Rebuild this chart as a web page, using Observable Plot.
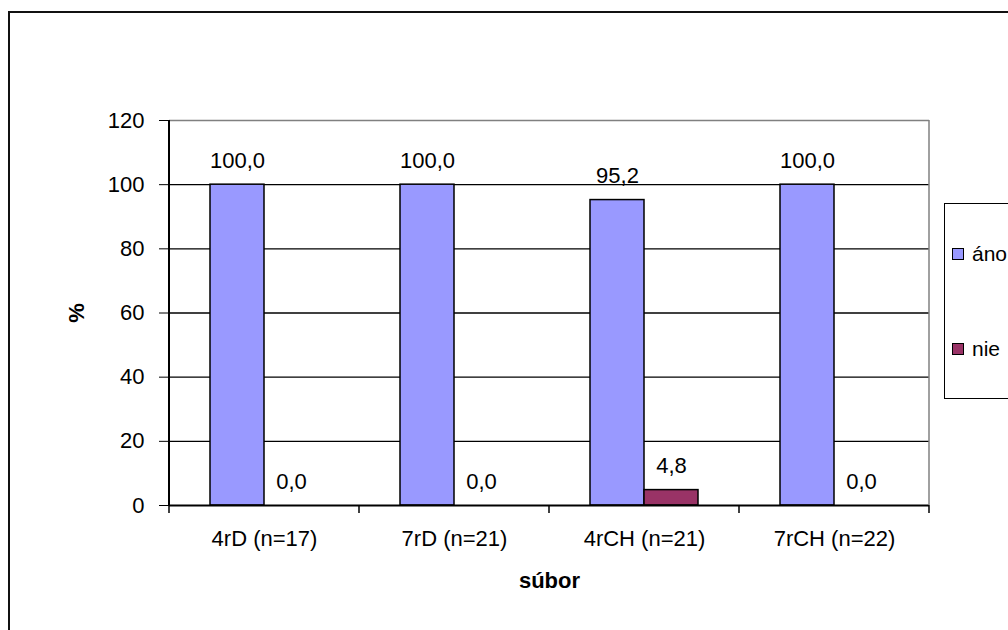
<!DOCTYPE html>
<html>
<head>
<meta charset="utf-8">
<script src="https://cdn.jsdelivr.net/npm/d3@7"></script>
<script src="https://cdn.jsdelivr.net/npm/@observablehq/plot@0.6"></script>
<style>
  html, body { margin: 0; padding: 0; background: #fff; }
  #wrap { position: relative; width: 1008px; height: 630px; overflow: hidden; font-family: "Liberation Sans", Arial, sans-serif; }
  #outer { position: absolute; left: 8px; top: 11px; width: 1100px; height: 700px; border: 2px solid #111; }
  #chart { position: absolute; left: 0; top: 0; }
  #legend { position: absolute; left: 944px; top: 203px; width: 100px; height: 194px; border: 1.5px solid #000; background: #fff; }
  .item { position: absolute; left: 7px; display: flex; align-items: center; font-size: 21px; line-height: 1; }
  .sw { width: 10px; height: 10px; border: 1.5px solid #000; margin-right: 8px; }
</style>
</head>
<body>
<div id="wrap">
  <div id="outer"></div>
  <div id="chart"></div>
  <div id="legend"></div>
</div>
<script>
// Groups (respondent sets) and answer shares in %
const categories = ["4rD (n=17)", "7rD (n=21)", "4rCH (n=21)", "7rCH (n=22)"];
const series = ["áno", "nie"];
const anoValues = [100.0, 100.0, 95.2, 100.0];
const nieValues = [0.0, 0.0, 4.8, 0.0];
const yTicks = [0, 20, 40, 60, 80, 100, 120];
const colors = ["#9999ff", "#993366"];

const data = categories.flatMap((c, i) => [
  {group: c, answer: series[0], value: anoValues[i]},
  {group: c, answer: series[1], value: nieValues[i]}
]);

const fmt = v => v.toFixed(1).replace(".", ",");

const chart = Plot.plot({
  width: 1008,
  height: 630,
  marginLeft: 168,
  marginRight: 79,
  marginTop: 120,
  marginBottom: 125,
  style: {fontFamily: "'Liberation Sans', Arial, sans-serif", fontSize: "22px", background: "transparent", color: "#000", overflow: "visible"},
  fx: {domain: categories, padding: 0, label: null},
  x: {domain: series, paddingInner: 0, paddingOuter: 0.73, axis: null},
  y: {domain: [0, 120], label: null},
  color: {domain: series, range: colors},
  marks: [
    Plot.ruleY(yTicks.filter(t => t > 0 && t < 120), {stroke: "#000", strokeWidth: 1.3}),
    Plot.ruleY([120], {stroke: "#808080", strokeWidth: 1.5}),
    Plot.barY(data, {fx: "group", x: "answer", y: "value", fill: "answer", stroke: "#000", strokeWidth: 1.5}),
    Plot.text(data, {fx: "group", x: "answer", y: "value", text: d => fmt(d.value), dy: -24, lineAnchor: "middle", fontSize: 22}),
    Plot.ruleY([0], {stroke: "#000", strokeWidth: 2}),
    Plot.axisY({ticks: yTicks, tickSize: 10, tickPadding: 15, fontSize: 22, label: "%", labelAnchor: "center", labelOffset: 101, labelArrow: "none"}),
    Plot.axisFx({anchor: "bottom", tickSize: 0, tickPadding: 25, fontSize: 22, label: "súbor", labelAnchor: "center", labelOffset: 82, labelArrow: "none"})
  ]
});

document.getElementById("chart").appendChild(chart);

// Plot-area outline, y axis line and group boundary ticks from the chart's own scales
const fx = chart.scale("fx");
const y = chart.scale("y");
const svg = d3.select(chart);
const x0 = fx.apply(categories[0]);
const x1 = fx.apply(categories[categories.length - 1]) + fx.bandwidth;
const yBase = y.apply(0);
const yTop = y.apply(120);
const extra = svg.append("g");
extra.append("line").attr("x1", x1).attr("x2", x1).attr("y1", yTop).attr("y2", yBase)
  .attr("stroke", "#808080").attr("stroke-width", 1.5);
extra.append("line").attr("x1", x0).attr("x2", x0).attr("y1", yTop).attr("y2", yBase)
  .attr("stroke", "#000").attr("stroke-width", 2);
const bounds = categories.map(c => fx.apply(c)).concat([x1]);
extra.selectAll(".bt").data(bounds).join("line")
  .attr("x1", d => d).attr("x2", d => d).attr("y1", yBase).attr("y2", yBase + 8)
  .attr("stroke", "#000").attr("stroke-width", 1.5);

// Axis titles in bold
svg.selectAll("[aria-label='y-axis label'] text, [aria-label='fx-axis label'] text").attr("font-weight", "bold");

// Legend box
const legend = d3.select("#legend");
const itemTops = [50, 145];
series.forEach((s, i) => {
  const it = legend.append("div").attr("class", "item").style("top", (itemTops[i] - 11) + "px");
  it.append("div").attr("class", "sw").style("background", colors[i]);
  it.append("span").text(s);
});
</script>
</body>
</html>
